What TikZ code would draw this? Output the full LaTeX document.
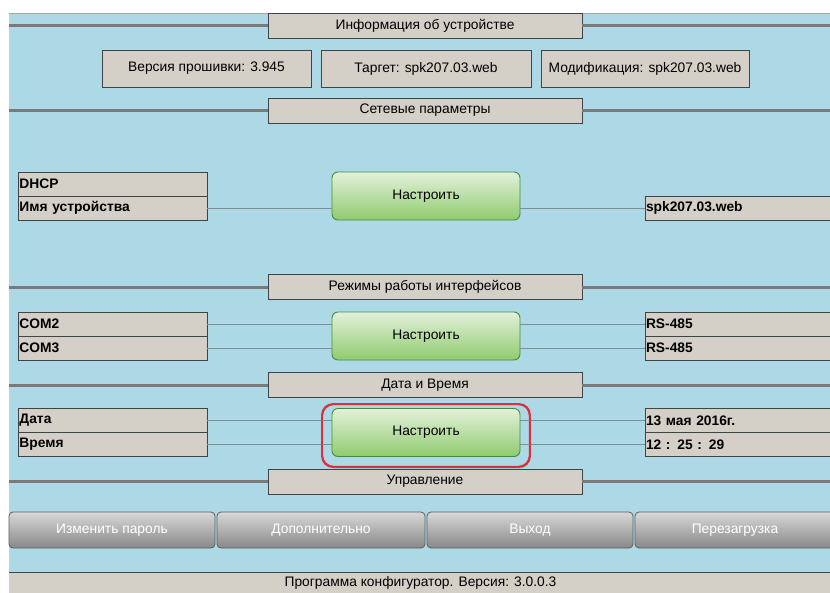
\documentclass[tikz,border=0pt]{standalone}
\usepackage{fontspec}
\setmainfont{Liberation Sans}
\usetikzlibrary{shadows}
\definecolor{pagebg}{HTML}{ADD8E6}
\definecolor{boxfill}{HTML}{D4D0C8}
\definecolor{boxline}{HTML}{404448}
\definecolor{barline}{HTML}{7A7A7A}
\definecolor{wire}{HTML}{7E8E98}
\definecolor{btntop}{HTML}{E3F1DB}
\definecolor{btnbot}{HTML}{8FCB6E}
\definecolor{btnline}{HTML}{3F8F3A}
\definecolor{greytop}{HTML}{D8D8D8}
\definecolor{greybot}{HTML}{888888}
\definecolor{greyline}{HTML}{5E5E5E}
\definecolor{focusred}{HTML}{D8323E}
\newcommand\uifont{\fontsize{13.8}{16}\selectfont}
\tikzset{
  panel/.style={draw=boxline, fill=boxfill, line width=0.9pt, inner sep=0pt},
  hdr/.style={panel, minimum width=314pt, minimum height=25pt, font=\uifont},
  infobox/.style={panel, minimum height=37pt, font=\uifont},
  lcell/.style={panel, minimum width=189pt, minimum height=24pt, text width=186pt,
    inner xsep=1.5pt, align=left, font=\uifont\bfseries},
  rcell/.style={panel, minimum width=190pt, minimum height=24pt, text width=188pt,
    inner xsep=1pt, align=left, font=\uifont\bfseries},
  setbtn/.style={draw=btnline, line width=0.9pt, rounded corners=6pt,
    top color=btntop, bottom color=btnbot, minimum width=188pt, minimum height=48pt,
    inner sep=0pt, font=\uifont},
  greybtn/.style={draw=greyline, line width=0.8pt, rounded corners=4pt,
    top color=greytop, bottom color=greybot, minimum height=36pt, inner sep=0pt,
    text=white, font=\uifont},
  bar/.style={draw=barline, line width=3pt},
  link/.style={draw=wire, line width=0.8pt},
}
\begin{document}
\begin{tikzpicture}[x=1pt,y=-1pt]
\useasboundingbox (0,0) rectangle (830,592);
\fill[white] (0,0) rectangle (830,592);
\fill[pagebg] (9,13) rectangle (832,594);
\draw[gray!70, line width=0.8pt] (9,13.4) -- (832,13.4);

% ---- section headers with their rules ----
\node[hdr] (h1) at (425,25.5) {Информация об устройстве};
\node[hdr] (h2) at (425,110.5) {Сетевые параметры};
\node[hdr] (h3) at (425,287) {Режимы работы интерфейсов};
\node[hdr] (h4) at (425,385) {Дата и Время};
\node[hdr] (h5) at (425,481.5) {Управление};
\foreach \h in {h1,h2,h3,h4,h5}{
  \coordinate (\h l) at (9,0 |- \h.center);
  \coordinate (\h r) at (832,0 |- \h.center);
  \draw[bar] (\h l) -- (\h.west);
  \draw[bar] (\h.east) -- (\h r);
}

% ---- device info ----
\node[infobox, minimum width=209pt] (fw) at (206.5,68.5) {Версия прошивки: 3.945};
\node[infobox, minimum width=210pt] (tg) at (426,68.5) {Таргет: spk207.03.web};
\node[infobox, minimum width=208pt] (md) at (645,68.5) {Модификация: spk207.03.web};

% ---- network settings ----
\node[lcell] (dhcp) at (112.5,184) {DHCP};
\node[lcell] (devname) at (112.5,208) {Имя устройства};
\node[setbtn] (cfg1) at (426,196) {Настроить};
\node[rcell] (devval) at (740,208) {spk207.03.web};
\draw[link] (devname.east) -- (cfg1.west |- devname.east);
\draw[link] (cfg1.east |- devval.west) -- (devval.west);

% ---- interface modes ----
\node[lcell] (com2) at (112.5,324) {COM2};
\node[lcell] (com3) at (112.5,348) {COM3};
\node[setbtn] (cfg2) at (426,336) {Настроить};
\node[rcell] (com2v) at (740,324) {RS-485};
\node[rcell] (com3v) at (740,348) {RS-485};
\draw[link] (com2.east) -- (cfg2.west |- com2.east);
\draw[link] (com3.east) -- (cfg2.west |- com3.east);
\draw[link] (cfg2.east |- com2v.west) -- (com2v.west);
\draw[link] (cfg2.east |- com3v.west) -- (com3v.west);

% ---- date and time ----
\node[lcell] (date) at (112.5,420.5) {Дата};
\node[lcell] (time) at (112.5,444.5) {Время};
\node[rcell] (datev) at (740,420.5) {13 мая 2016г.};
\node[rcell] (timev) at (740,444.5) {12 : 25 : 29};
% focus frame round the active button, with a soft shadow
\node[draw=focusred, line width=1.4pt, rounded corners=11pt, fill=pagebg,
  minimum width=207pt, minimum height=62pt,
  drop shadow={shadow xshift=1pt, shadow yshift=-2pt, opacity=0.25}] (focus) at (426,435.5) {};
\draw[link] (date.east) -- (focus.west |- date.east) -- (focus.east |- datev.west) -- (datev.west);
\draw[link] (time.east) -- (focus.west |- time.east) -- (focus.east |- timev.west) -- (timev.west);
\draw[focusred, line width=1.4pt, rounded corners=11pt] (focus.north west) rectangle (focus.south east);
\node[setbtn] (cfg3) at (426,432.5) {Настроить};

% ---- control buttons ----
\node[greybtn, minimum width=206pt] (pwd) at (112,530) {Изменить пароль};
\node[greybtn, minimum width=208pt] (more) at (321,530) {Дополнительно};
\node[greybtn, minimum width=206pt] (quit) at (530,530) {Выход};
\node[greybtn, minimum width=200pt] (boot) at (735,530) {Перезагрузка};

% ---- status line ----
\node[fill=boxfill, minimum width=823pt, minimum height=21pt, inner sep=0pt,
  font=\uifont] (status) at (420.5,583) {Программа конфигуратор. Версия: 3.0.0.3};
\draw[boxline, line width=0.9pt] (status.north west) -- (status.north east);
\end{tikzpicture}
\end{document}
